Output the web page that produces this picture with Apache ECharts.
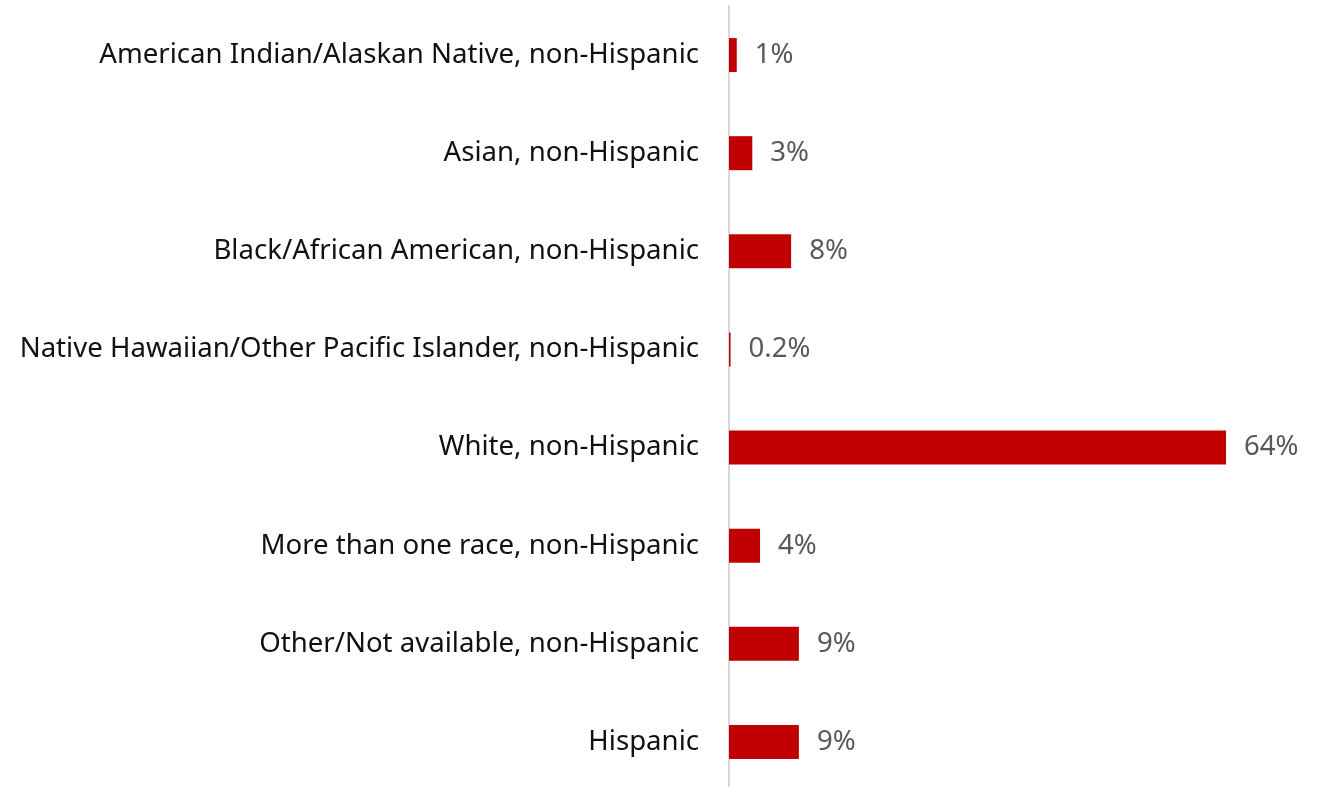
<!DOCTYPE html>
<html>
<head>
<meta charset="utf-8">
<script src="https://cdn.jsdelivr.net/npm/echarts@6/dist/echarts.min.js"></script>
<style>
  html, body { margin: 0; padding: 0; background: #ffffff; }
  #chart { width: 1324px; height: 787px; }
</style>
</head>
<body>
<div id="chart"></div>
<script>
// Race/ethnicity groups, top to bottom
const categories = [
  'American Indian/Alaskan Native, non-Hispanic',
  'Asian, non-Hispanic',
  'Black/African American, non-Hispanic',
  'Native Hawaiian/Other Pacific Islander, non-Hispanic',
  'White, non-Hispanic',
  'More than one race, non-Hispanic',
  'Other/Not available, non-Hispanic',
  'Hispanic'
];
// Share of each group, in percent
const shares = [1, 3, 8, 0.2, 64, 4, 9, 9];

const chart = echarts.init(document.getElementById('chart'), null, { renderer: 'canvas' });
const fontFamily = '"Noto Sans", Lato, sans-serif';

chart.setOption({
  animation: false,
  grid: {
    left: 729, width: 543.6, top: 6, height: 785,
    containLabel: false,
    outerBoundsMode: 'none'
  },
  xAxis: {
    type: 'value',
    min: 0,
    max: 70,
    show: false
  },
  yAxis: {
    type: 'category',
    data: categories,
    inverse: true,
    axisLine: { show: true, lineStyle: { color: '#d9d9d9', width: 2 } },
    axisTick: { show: false },
    axisLabel: {
      margin: 30,
      color: '#111111',
      fontFamily: fontFamily,
      fontSize: 27.6
    }
  },
  series: [{
    type: 'bar',
    data: shares,
    barWidth: 34,
    itemStyle: { color: '#c00000' },
    label: {
      show: true,
      position: 'right',
      distance: 18,
      color: '#595959',
      fontFamily: fontFamily,
      fontSize: 27.6,
      formatter: p => p.value + '%'
    }
  }]
});
</script>
</body>
</html>
